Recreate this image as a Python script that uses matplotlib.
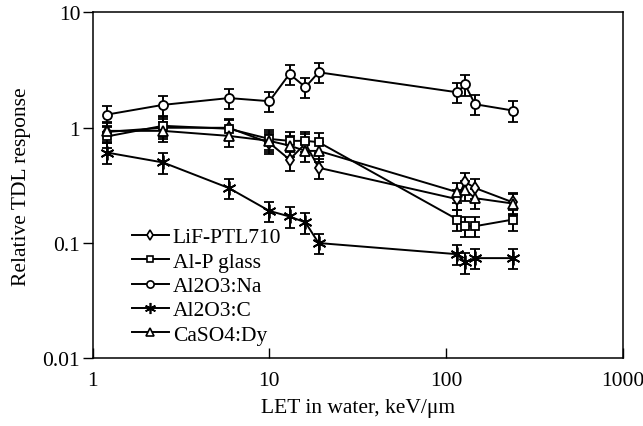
import matplotlib
matplotlib.use("Agg")
import matplotlib.pyplot as plt
from matplotlib.lines import Line2D
import numpy as np

let = [1.2, 2.5, 5.9, 10, 13, 16, 19, 116, 128, 146, 240]

lif = [0.92, 1.0, 1.0, 0.74, 0.53, 0.73, 0.45, 0.24, 0.34, 0.30, 0.225]
alp = [0.84, 1.04, 0.98, 0.80, 0.77, 0.77, 0.75, 0.16, 0.14, 0.14, 0.16]
al2o3_na = [1.30, 1.58, 1.81, 1.70, 2.93, 2.25, 3.03, 2.03, 2.38, 1.60, 1.41]
al2o3_c = [0.61, 0.50, 0.30, 0.19, 0.17, 0.151, 0.10, 0.080, 0.068, 0.074, 0.074]
caso4 = [0.94, 0.94, 0.85, 0.77, 0.70, 0.63, 0.63, 0.276, 0.29, 0.245, 0.22]

rel_err = 0.2

series = [
    ("LiF-PTL710", lif, "d", 6),
    ("Al-P glass", alp, "s", 6),
    ("Al2O3:Na", al2o3_na, "o", 6.5),
    ("Al2O3:C", al2o3_c, (6, 2, 0), 10),
    ("CaSO4:Dy", caso4, "^", 6.5),
]

plt.rcParams['font.family'] = ['Liberation Serif', 'DejaVu Serif']

fig = plt.figure(figsize=(6.43, 4.27), dpi=100)
ax = fig.add_axes([0.1442, 0.1585, 0.8242, 0.8099])

handles = []
for name, vals, mk, ms in series:
    v = np.array(vals)
    ax.errorbar(let, v, yerr=rel_err * v, color='black', lw=1.4, marker=mk,
                ms=ms, mfc='white', mec='black', mew=1.3, capsize=3.5,
                capthick=1.4, elinewidth=1.4)
    handles.append(Line2D([], [], color='black', lw=1.4, marker=mk, ms=ms * 0.8,
                          mfc='white', mec='black', mew=1.2))

ax.set_xscale('log')
ax.set_yscale('log')
ax.set_xlim(1, 1000)
ax.set_ylim(0.01, 10)
ax.set_xticks([1, 10, 100, 1000])
ax.set_xticklabels(['1', '10', '100', '1000'])
ax.set_yticks([0.01, 0.1, 1, 10])
ax.set_yticklabels(['0.01', '0.1', '1', '10'])
ax.minorticks_off()
fs = 15.5
ax.tick_params(axis='x', direction='in', length=7, width=1, labelsize=fs, pad=9)
ax.tick_params(axis='y', direction='out', length=7, width=1, labelsize=fs, pad=2)
for s in ax.spines.values():
    s.set_linewidth(1.1)

ax.set_xlabel('LET in water, keV/μm', fontsize=fs, labelpad=6)
ax.set_ylabel('Relative TDL response', fontsize=fs, labelpad=8)

ax.legend(handles, [s[0] for s in series], loc='center left',
          bbox_to_anchor=(0.074, 0.209), frameon=False, fontsize=fs,
          borderpad=0, borderaxespad=0, handlelength=1.7, handletextpad=0.2,
          labelspacing=0.2)

fig.savefig('out.png', dpi=100)
